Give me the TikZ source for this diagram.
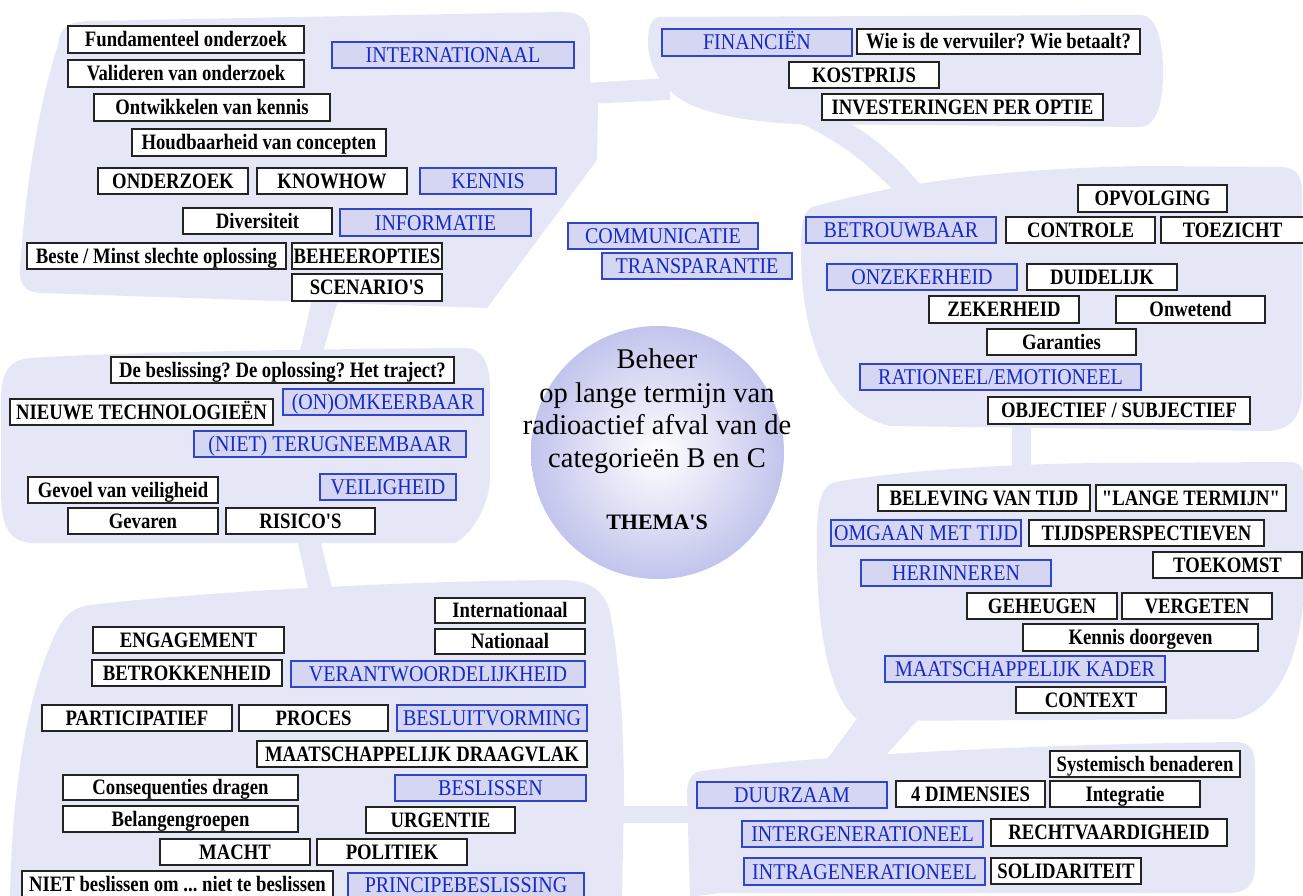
\documentclass[tikz,border=0pt]{standalone}
\usepackage{fontspec}
\setmainfont{Liberation Serif}[Ligatures=TeXOff]
\newfontfamily\bxfont{Liberation Serif}[FakeStretch=0.85,Ligatures=TeXOff]
\newfontfamily\blfont{Liberation Serif}[FakeStretch=0.89,Ligatures=TeXOff]
\frenchspacing
\definecolor{blobfill}{RGB}{230,231,246}
\definecolor{bluefill}{RGB}{212,214,242}
\definecolor{bluetext}{RGB}{22,40,200}
\definecolor{blueline}{RGB}{50,68,200}
\definecolor{boxline}{RGB}{35,35,35}
\definecolor{circ}{RGB}{194,196,236}
\pgfdeclareradialshading{thema}{\pgfpoint{0bp}{0bp}}{color(0bp)=(white); color(25bp)=(circ); color(50bp)=(circ)}
\newcommand\kvbox[6]{\node[bbox,minimum width={(#4-#2)*1pt},minimum height={(#5-#3)*1pt}] (#1) at ({(#2+#4)/2},{(#3+#5)/2}) {#6};}
\newcommand\kvblue[6]{\node[blbox,minimum width={(#4-#2)*1pt},minimum height={(#5-#3)*1pt}] (#1) at ({(#2+#4)/2},{(#3+#5)/2}) {#6};}
\begin{document}
\begin{tikzpicture}[x=1pt,y=-1pt,
  bbox/.style={draw=boxline,line width=1.4pt,fill=white,inner sep=0pt,text=black,
    font=\bxfont\bfseries\fontsize{22}{24}\selectfont,text height=14.5pt,text depth=0pt},
  blbox/.style={draw=blueline,line width=1.2pt,fill=bluefill,inner sep=0pt,text=bluetext,
    font=\blfont\fontsize{22.5}{24}\selectfont,text height=15pt,text depth=0pt},
  blob/.style={fill=blobfill,draw=none},
  ctext/.style={anchor=base,inner sep=0pt,font=\fontsize{28.5}{33}\selectfont}]
\useasboundingbox (0,0) rectangle (1303,896);
\fill[white] (0,0) rectangle (1303,896);
% blobs
\fill[blob] (58,45) .. controls (60,26) and (68,22) .. (90,21) -- (560,12) .. controls (582,12) and (590,20) .. (590,40) -- (590,95) -- (598,103) -- (597,160) -- (487,308) -- (40,293) .. controls (25,292) and (19,285) .. (20,268) .. controls (26,180) and (40,100) .. (58,45) -- cycle;
\fill[blob] (585,83) -- (670,78) -- (670,100) -- (585,104) -- cycle;
\fill[blob] (660,17) -- (1140,15) .. controls (1158,15) and (1163,45) .. (1163,72) .. controls (1163,100) and (1158,126) .. (1140,127) -- (795,124) .. controls (740,121) and (697,112) .. (676,96) .. controls (657,80) and (648,62) .. (648,42) .. controls (648,26) and (652,17) .. (660,17) -- cycle;
\fill[blob] (788,118) .. controls (830,135) and (862,158) .. (893,190) -- (925,190) .. controls (892,150) and (862,128) .. (838,118) -- cycle;
\fill[blob] (812,207) .. controls (900,183) and (1000,168) .. (1150,166) -- (1282,167) .. controls (1297,168) and (1302,176) .. (1302,192) -- (1302,390) .. controls (1302,415) and (1292,429) .. (1270,431) -- (890,426) .. controls (830,412) and (800,340) .. (801,245) .. controls (801,222) and (804,211) .. (812,207) -- cycle;
\fill[blob] (1012,420) rectangle (1031,475);
\fill[blob] (835,482) .. controls (900,471) and (1000,464) .. (1100,463) -- (1290,462) .. controls (1300,462) and (1304,468) .. (1304,480) -- (1304,590) .. controls (1300,670) and (1270,712) .. (1235,719) -- (860,721) .. controls (835,706) and (818,650) .. (817,560) .. controls (816,510) and (818,487) .. (835,482) -- cycle;
\fill[blob] (862,712) -- (925,712) -- (876,766) -- (822,766) -- cycle;
\fill[blob] (702,771) .. controls (800,757) and (1000,745) .. (1235,742) .. controls (1250,742) and (1255,750) .. (1255,765) -- (1255,865) .. controls (1255,884) and (1248,892) .. (1230,893) -- (720,893) -- (690,897) -- (687,795) .. controls (687,779) and (692,772) .. (702,771) -- cycle;
\fill[blob] (600,806) -- (700,806) -- (700,823) -- (600,823) -- cycle;
\fill[blob] (90,605) .. controls (200,592) and (400,581) .. (560,580) .. controls (590,580) and (604,590) .. (610,612) .. controls (619,660) and (624,720) .. (624,800) -- (622,897) -- (10,897) .. controls (12,780) and (30,680) .. (60,625) .. controls (68,612) and (76,607) .. (90,605) -- cycle;
\fill[blob] (296,535) -- (319,535) -- (333,592) -- (309,592) -- cycle;
\fill[blob] (30,358) .. controls (100,353) and (300,349) .. (465,348) .. controls (481,348) and (490,360) .. (490,390) -- (490,480) .. controls (488,510) and (470,535) .. (455,543) -- (30,543) .. controls (6,540) and (1,522) .. (1,490) -- (1,400) .. controls (1,372) and (9,360) .. (30,358) -- cycle;
\fill[blob] (312,300) -- (338,300) -- (322,355) -- (299,355) -- cycle;
% centre
\node[circle,minimum size=253pt,inner sep=0pt,shade,shading=thema] (hub) at (657.5,452.5) {};
\node[ctext] (c1) at (657,368) {Beheer};
\node[ctext] (c2) at (657,402) {op lange termijn van};
\node[ctext] (c3) at (657,434) {radioactief afval van de};
\node[ctext] (c4) at (657,467) {categorieën B en C};
\node[ctext,font=\bfseries\fontsize{22}{24}\selectfont] (c5) at (657,529) {THEMA'S};
% black boxes
\kvbox{fund}{68}{26}{304}{53}{Fundamenteel onderzoek}
\kvbox{valid}{68}{60}{304}{87}{Valideren van onderzoek}
\kvbox{ontw}{94}{94}{330}{121}{Ontwikkelen van kennis}
\kvbox{houd}{132}{129}{386}{156}{Houdbaarheid van concepten}
\kvbox{onderz}{98}{168}{248}{194}{ONDERZOEK}
\kvbox{know}{257}{168}{407}{194}{KNOWHOW}
\kvbox{divers}{183}{208}{332}{234}{Diversiteit}
\kvbox{beste}{27}{243}{286}{269}{Beste / Minst slechte oplossing}
\kvbox{beheer}{292}{243}{442}{269}{BEHEEROPTIES}
\kvbox{scen}{292}{274}{442}{301}{SCENARIO'S}
\kvbox{wie}{857}{29}{1140}{54}{Wie is de vervuiler? Wie betaalt?}
\kvbox{kost}{789}{62}{939}{88}{KOSTPRIJS}
\kvbox{invest}{822}{94}{1103}{120}{INVESTERINGEN PER OPTIE}
\kvbox{opv}{1078}{185}{1227}{212}{OPVOLGING}
\kvbox{contr}{1006}{217}{1155}{243}{CONTROLE}
\kvbox{toez}{1161}{217}{1304}{243}{TOEZICHT}
\kvbox{duid}{1027}{264}{1177}{290}{DUIDELIJK}
\kvbox{zek}{929}{296}{1079}{323}{ZEKERHEID}
\kvbox{onwet}{1116}{296}{1265}{323}{Onwetend}
\kvbox{gar}{987}{329}{1136}{355}{Garanties}
\kvbox{obj}{988}{397}{1250}{424}{OBJECTIEF / SUBJECTIEF}
\kvbox{belev}{878}{485}{1090}{511}{BELEVING VAN TIJD}
\kvbox{lange}{1096}{485}{1286}{511}{"LANGE TERMIJN"}
\kvbox{tijdsp}{1029}{520}{1264}{546}{TIJDSPERSPECTIEVEN}
\kvbox{toek}{1153}{552}{1302}{578}{TOEKOMST}
\kvbox{geh}{967}{593}{1117}{619}{GEHEUGEN}
\kvbox{verg}{1122}{593}{1272}{619}{VERGETEN}
\kvbox{kennd}{1023}{624}{1258}{651}{Kennis doorgeven}
\kvbox{context}{1016}{687}{1166}{713}{CONTEXT}
\kvbox{syst}{1050}{751}{1240}{777}{Systemisch benaderen}
\kvbox{dim}{896}{781}{1045}{807}{4 DIMENSIES}
\kvbox{integr}{1050}{781}{1200}{807}{Integratie}
\kvbox{recht}{991}{819}{1227}{846}{RECHTVAARDIGHEID}
\kvbox{solid}{991}{858}{1141}{884}{SOLIDARITEIT}
\kvbox{beslis}{111}{357}{454}{383}{De beslissing? De oplossing? Het traject?}
\kvbox{nieuw}{10}{399}{273}{425}{NIEUWE TECHNOLOGIEËN}
\kvbox{gevoel}{28}{477}{218}{503}{Gevoel van veiligheid}
\kvbox{gevaren}{68}{508}{218}{534}{Gevaren}
\kvbox{risico}{226}{508}{375}{534}{RISICO'S}
\kvbox{intl}{435}{598}{585}{623}{Internationaal}
\kvbox{nat}{435}{629}{585}{654}{Nationaal}
\kvbox{engag}{93}{627}{284}{653}{ENGAGEMENT}
\kvbox{betrok}{92}{660}{282}{686}{BETROKKENHEID}
\kvbox{partic}{42}{705}{232}{731}{PARTICIPATIEF}
\kvbox{proces}{239}{705}{388}{731}{PROCES}
\kvbox{draag}{257}{741}{587}{767}{MAATSCHAPPELIJK DRAAGVLAK}
\kvbox{conseq}{63}{775}{298}{800}{Consequenties dragen}
\kvbox{belang}{63}{806}{298}{832}{Belangengroepen}
\kvbox{urg}{366}{807}{515}{833}{URGENTIE}
\kvbox{macht}{160}{839}{310}{865}{MACHT}
\kvbox{polit}{317}{839}{467}{865}{POLITIEK}
\kvbox{niet}{22}{871}{333}{897}{NIET beslissen om ... niet te beslissen}
% blue boxes
\kvblue{intern}{332}{42}{574}{68}{INTERNATIONAAL}
\kvblue{kennis}{420}{168}{556}{194}{KENNIS}
\kvblue{inform}{340}{209}{531}{236}{INFORMATIE}
\kvblue{comm}{568}{223}{758}{249}{COMMUNICATIE}
\kvblue{transp}{602}{253}{792}{279}{TRANSPARANTIE}
\kvblue{fin}{662}{29}{852}{56}{FINANCIËN}
\kvblue{betr}{806}{217}{996}{243}{BETROUWBAAR}
\kvblue{onzek}{827}{264}{1017}{290}{ONZEKERHEID}
\kvblue{ration}{860}{364}{1141}{390}{RATIONEEL/EMOTIONEEL}
\kvblue{omgaan}{831}{520}{1021}{546}{OMGAAN MET TIJD}
\kvblue{herinn}{861}{560}{1051}{586}{HERINNEREN}
\kvblue{maatk}{885}{656}{1165}{682}{MAATSCHAPPELIJK KADER}
\kvblue{duurz}{697}{782}{887}{808}{DUURZAAM}
\kvblue{interg}{742}{821}{983}{847}{INTERGENERATIONEEL}
\kvblue{intrag}{744}{858}{985}{885}{INTRAGENERATIONEEL}
\kvblue{onomk}{283}{389}{483}{415}{(ON)OMKEERBAAR}
\kvblue{niett}{194}{431}{466}{457}{(NIET) TERUGNEEMBAAR}
\kvblue{veil}{320}{474}{456}{500}{VEILIGHEID}
\kvblue{veran}{291}{661}{585}{687}{VERANTWOORDELIJKHEID}
\kvblue{besluit}{397}{705}{587}{731}{BESLUITVORMING}
\kvblue{beslissen}{395}{775}{586}{801}{BESLISSEN}
\kvblue{princ}{348}{873}{584}{897}{PRINCIPEBESLISSING}
\end{tikzpicture}
\end{document}
